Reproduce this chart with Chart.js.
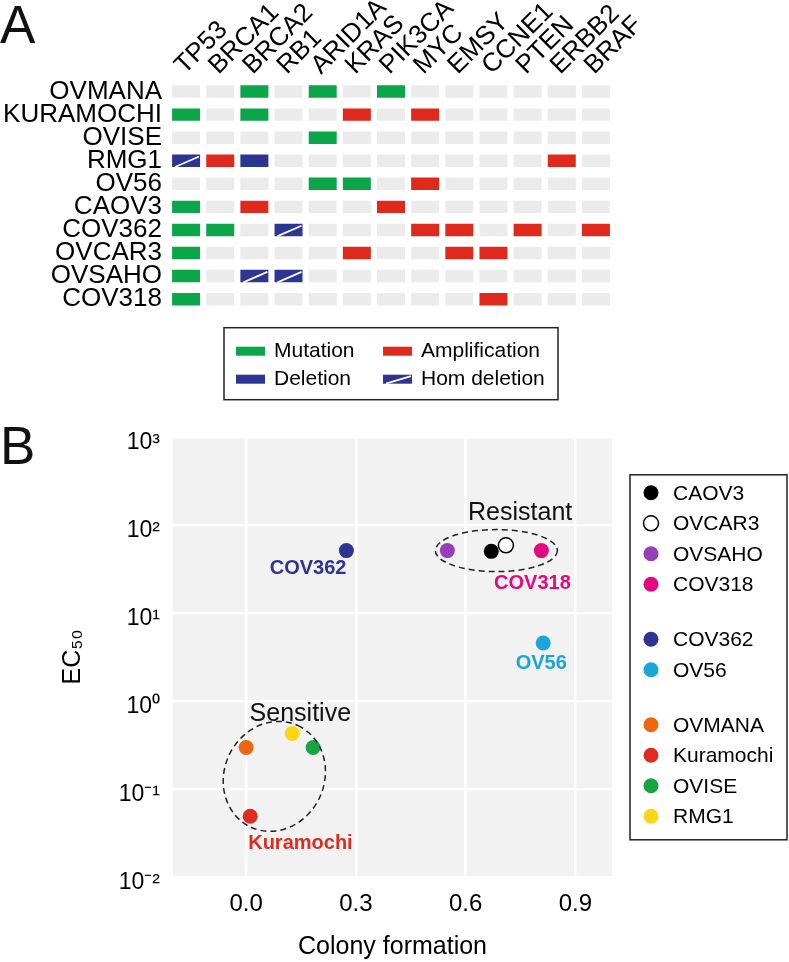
<!DOCTYPE html>
<html>
<head>
<meta charset="utf-8">
<script src="https://cdn.jsdelivr.net/npm/chart.js@4.4.1/dist/chart.umd.min.js"></script>
<style>
  html, body { margin: 0; padding: 0; background: #fff; }
  body { width: 789px; height: 962px; position: relative; overflow: hidden; font-family: "Liberation Sans", Arial, sans-serif; }
  .panel { position: absolute; left: 0; font-size: 53px; line-height: 1; color: #111; }
  #wrapA { position: absolute; left: 0; top: 0; width: 789px; height: 420px; }
  #wrapB { position: absolute; left: 0; top: 410px; width: 789px; height: 552px; }
</style>
</head>
<body>
<div id="wrapA"><canvas id="chartA" width="789" height="420"></canvas></div>
<div id="wrapB"><canvas id="chartB" width="789" height="552"></canvas></div>
<div class="panel" style="top:-2px;">A</div>
<div class="panel" style="top:419px;">B</div>
<script>
// ---- Panel A: alterations per cell line ----
const genes = ["TP53", "BRCA1", "BRCA2", "RB1", "ARID1A", "KRAS", "PIK3CA", "MYC", "EMSY", "CCNE1", "PTEN", "ERBB2", "BRAF"];
const cellLines = ["OVMANA", "KURAMOCHI", "OVISE", "RMG1", "OV56", "CAOV3", "COV362", "OVCAR3", "OVSAHO", "COV318"];

const mutations = [
    ["OVMANA", "BRCA2"], ["OVMANA", "ARID1A"], ["OVMANA", "PIK3CA"],
    ["KURAMOCHI", "TP53"], ["KURAMOCHI", "BRCA2"],
    ["OVISE", "ARID1A"],
    ["OV56", "ARID1A"], ["OV56", "KRAS"],
    ["CAOV3", "TP53"],
    ["COV362", "TP53"], ["COV362", "BRCA1"],
    ["OVCAR3", "TP53"], ["OVSAHO", "TP53"], ["COV318", "TP53"]
];
const amplifications = [
    ["KURAMOCHI", "KRAS"], ["KURAMOCHI", "MYC"],
    ["RMG1", "BRCA1"], ["RMG1", "ERBB2"],
    ["OV56", "MYC"],
    ["CAOV3", "BRCA2"], ["CAOV3", "PIK3CA"],
    ["COV362", "MYC"], ["COV362", "EMSY"], ["COV362", "PTEN"], ["COV362", "BRAF"],
    ["OVCAR3", "KRAS"], ["OVCAR3", "EMSY"], ["OVCAR3", "CCNE1"],
    ["COV318", "CCNE1"]
];
const deletions = [["RMG1", "BRCA2"]];
const homDeletions = [["RMG1", "TP53"], ["COV362", "RB1"], ["OVSAHO", "BRCA2"], ["OVSAHO", "RB1"]];

// ---- Panel B: colony formation vs EC50 ----
const lines = ["CAOV3", "OVCAR3", "OVSAHO", "COV318", "COV362", "OV56", "OVMANA", "Kuramochi", "OVISE", "RMG1"];
const colonyFormation = [0.67, 0.71, 0.55, 0.807, 0.274, 0.812, 0.0, 0.011, 0.183, 0.126];
const ec50 = [50, 58.5, 51, 51, 51, 4.55, 0.296, 0.049, 0.296, 0.426];
const legendGroups = [4, 2, 4];
const xTicks = [0, 0.3, 0.6, 0.9];
const yTicks = [0.01, 0.1, 1, 10, 100, 1000];
const yTickLabels = ["10\u207B\u00B2", "10\u207B\u00B9", "10\u2070", "10\u00B9", "10\u00B2", "10\u00B3"];

Chart.defaults.font.family = '"Liberation Sans", Arial, Helvetica, sans-serif';
Chart.defaults.color = "#000";

const COLORS = {
    Mutation: "#0ba64a",
    Amplification: "#de291c",
    Deletion: "#2d3592",
    "Hom deletion": "#2d3592",
    none: "#ebebeb"
};

function cell(pair) {
    const gi = genes.indexOf(pair[1]);
    return { x: [gi + 0.09, gi + 0.91], y: pair[0] };
}

const altered = new Set([...mutations, ...amplifications, ...deletions, ...homDeletions].map(p => p.join("|")));
const emptyCells = [];
cellLines.forEach(c => genes.forEach(g => { if (!altered.has(c + "|" + g)) emptyCells.push([c, g]); }));

function cellSet(label, pairs) {
    return {
        label: label,
        data: pairs.map(cell),
        backgroundColor: COLORS[label],
        grouped: false,
        barPercentage: 0.54,
        categoryPercentage: 1,
        borderWidth: 0
    };
}

const homLinePlugin = {
    id: "homLine",
    afterDatasetsDraw(chart) {
        const ctx = chart.ctx;
        chart.data.datasets.forEach((ds, i) => {
            if (ds.label !== "Hom deletion") return;
            chart.getDatasetMeta(i).data.forEach(bar => {
                const p = bar.getProps(["x", "y", "base", "height"], true);
                const l = Math.min(p.x, p.base), r = Math.max(p.x, p.base);
                ctx.save();
                ctx.strokeStyle = "#fff";
                ctx.lineWidth = 1.8;
                ctx.beginPath();
                ctx.moveTo(l + 3, p.y + p.height / 2);
                ctx.lineTo(r - 1, p.y - p.height / 2 + 2);
                ctx.stroke();
                ctx.restore();
            });
        });
    }
};

const legendAPlugin = {
    id: "legendA",
    afterDraw(chart) {
        const ctx = chart.ctx;
        const area = chart.chartArea;
        const w = 334, h = 72;
        const left = (area.left + area.right) / 2 - w / 2;
        const top = area.bottom + 17;
        ctx.save();
        ctx.strokeStyle = "#222";
        ctx.lineWidth = 1.5;
        ctx.strokeRect(left, top, w, h);
        const items = chart.data.datasets.filter(d => d.label !== "none");
        ctx.font = '21px "Liberation Sans", Arial, sans-serif';
        ctx.textBaseline = "middle";
        ctx.fillStyle = "#000";
        items.forEach((d, k) => {
            const col = k % 2, row = Math.floor(k / 2);
            const sx = left + 12 + col * 147;
            const sy = top + 19 + row * 28;
            ctx.fillStyle = d.backgroundColor;
            ctx.fillRect(sx, sy, 29, 9);
            if (d.label === "Hom deletion") {
                ctx.strokeStyle = "#fff";
                ctx.lineWidth = 1.8;
                ctx.beginPath();
                ctx.moveTo(sx + 3, sy + 9);
                ctx.lineTo(sx + 28, sy + 1.5);
                ctx.stroke();
            }
            ctx.fillStyle = "#000";
            ctx.fillText(d.label, sx + 38, sy + 5);
        });
        ctx.restore();
    }
};

new Chart(document.getElementById("chartA"), {
    type: "bar",
    data: {
        labels: cellLines,
        datasets: [
            cellSet("Mutation", mutations),
            cellSet("Amplification", amplifications),
            cellSet("Deletion", deletions),
            cellSet("Hom deletion", homDeletions),
            cellSet("none", emptyCells)
        ]
    },
    options: {
        indexAxis: "y",
        responsive: false,
        animation: false,
        layout: { padding: { left: 0, top: 0, right: 176, bottom: 109.3 } },
        plugins: { legend: { display: false }, tooltip: { enabled: false } },
        scales: {
            x: {
                type: "linear",
                position: "top",
                min: 0,
                max: genes.length,
                grid: { display: false, drawTicks: false },
                border: { display: false },
                // labels sit a little right of each column, as in the original
                afterBuildTicks: s => { s.ticks = genes.map((g, i) => ({ value: i + 0.95 })); },
                afterFit: s => { s.height = 80; },
                ticks: {
                    autoSkip: false,
                    minRotation: 45,
                    maxRotation: 45,
                    padding: -1,
                    font: { size: 26 },
                    callback: (v, i) => genes[i]
                }
            },
            y: {
                type: "category",
                grid: { display: false, drawTicks: false },
                border: { display: false },
                afterFit: s => { s.width = 169; },
                ticks: { autoSkip: false, padding: 7, font: { size: 26 } }
            }
        }
    },
    plugins: [homLinePlugin, legendAPlugin]
});

// ---- Panel B chart ----
const POINT_COLORS = {
    CAOV3: "#000000", OVCAR3: "#ffffff", OVSAHO: "#953fb8", COV318: "#e4087f",
    COV362: "#2d3592", OV56: "#1ba5d8", OVMANA: "#ef6512", Kuramochi: "#df2b20",
    OVISE: "#18a443", RMG1: "#fcd418"
};

const bgPlugin = {
    id: "panelBg",
    beforeDraw(chart) {
        const a = chart.chartArea;
        chart.ctx.save();
        chart.ctx.fillStyle = "#f2f2f2";
        chart.ctx.fillRect(a.left, a.top, a.right - a.left, a.bottom - a.top);
        chart.ctx.restore();
    }
};

const groupsPlugin = {
    id: "groups",
    afterDatasetsDraw(chart) {
        const ctx = chart.ctx;
        const xs = chart.scales.x, ys = chart.scales.y;
        ctx.save();
        ctx.strokeStyle = "#222";
        ctx.lineWidth = 1.5;
        ctx.setLineDash([6, 4]);
        [
            { x: 0.684, y: 51, rx: 61, ry: 21, rot: 0 },
            { x: 0.077, y: 0.139, rx: 56, ry: 50, rot: -65 }
        ].forEach(e => {
            ctx.beginPath();
            ctx.ellipse(xs.getPixelForValue(e.x), ys.getPixelForValue(e.y), e.rx, e.ry, e.rot * Math.PI / 180, 0, Math.PI * 2);
            ctx.stroke();
        });
        ctx.setLineDash([]);
        ctx.fillStyle = "#111";
        ctx.font = '25px "Liberation Sans", Arial, sans-serif';
        ctx.textAlign = "center";
        ctx.textBaseline = "middle";
        ctx.fillText("Resistant", xs.getPixelForValue(0.749), ys.getPixelForValue(134.6));
        ctx.fillText("Sensitive", xs.getPixelForValue(0.148), ys.getPixelForValue(0.716));

        // coloured names beside some points
        ctx.font = 'bold 20px "Liberation Sans", Arial, sans-serif';
        [
            { name: "COV362", dx: 0, dy: 18, align: "right" },
            { name: "COV318", dx: -9, dy: 33, align: "center" },
            { name: "OV56", dx: -2, dy: 20, align: "center" },
            { name: "Kuramochi", dx: -2, dy: 27, align: "left" }
        ].forEach(n => {
            const i = lines.indexOf(n.name);
            const px = xs.getPixelForValue(colonyFormation[i]);
            const py = ys.getPixelForValue(ec50[i]);
            ctx.fillStyle = POINT_COLORS[n.name];
            ctx.textAlign = n.align;
            ctx.fillText(n.name, px + n.dx, py + n.dy);
        });
        ctx.restore();
    }
};

const legendBPlugin = {
    id: "legendB",
    afterDraw(chart) {
        const ctx = chart.ctx;
        const a = chart.chartArea;
        const left = a.right + 18, top = a.top + 38;
        ctx.save();
        ctx.strokeStyle = "#222";
        ctx.lineWidth = 1.5;
        ctx.strokeRect(left, top, 157, 365);
        ctx.font = '21px "Liberation Sans", Arial, sans-serif';
        ctx.textBaseline = "middle";
        let y = top + 18, k = 0;
        legendGroups.forEach(n => {
            for (let j = 0; j < n; j++, k++) {
                const ds = chart.data.datasets[k];
                ctx.beginPath();
                ctx.arc(left + 21, y, 7.5, 0, Math.PI * 2);
                ctx.fillStyle = ds.backgroundColor;
                ctx.fill();
                if (ds.borderWidth) {
                    ctx.strokeStyle = "#000";
                    ctx.lineWidth = 1.5;
                    ctx.stroke();
                }
                ctx.fillStyle = "#000";
                ctx.fillText(ds.label, left + 43, y + 1);
                y += 30.5;
            }
            y += 24.5;
        });
        ctx.restore();
    }
};

new Chart(document.getElementById("chartB"), {
    type: "scatter",
    data: {
        datasets: lines.map((name, i) => ({
            label: name,
            data: [{ x: colonyFormation[i], y: ec50[i] }],
            backgroundColor: POINT_COLORS[name],
            borderColor: "#000",
            borderWidth: name === "OVCAR3" ? 1.5 : 0,
            pointRadius: 7.5,
            order: name === "OVCAR3" ? -1 : 0
        }))
    },
    options: {
        responsive: false,
        animation: false,
        layout: { padding: { left: 0, top: 25, right: 177, bottom: 0 } },
        plugins: { legend: { display: false }, tooltip: { enabled: false } },
        scales: {
            x: {
                type: "linear",
                min: -0.2,
                max: 1.0,
                grid: { color: "#ffffff", lineWidth: 2.5, drawTicks: false },
                border: { display: false },
                afterBuildTicks: s => { s.ticks = xTicks.map(v => ({ value: v })); },
                afterFit: s => { s.height = 85; },
                ticks: { padding: 13, font: { size: 24 }, callback: v => v.toFixed(1) },
                title: { display: true, text: "Colony formation", font: { size: 25 }, padding: { top: 4, bottom: 0 } }
            },
            y: {
                type: "logarithmic",
                min: 0.01,
                max: 1000,
                grid: { color: "#ffffff", lineWidth: 2.5, drawTicks: false },
                border: { display: false },
                afterBuildTicks: s => { s.ticks = yTicks.map(v => ({ value: v })); },
                afterFit: s => { s.width = 173; },
                ticks: { padding: 13, labelOffset: 6, font: { size: 23 }, callback: (v, i) => yTickLabels[i] },
                title: { display: true, text: "EC\u2085\u2080", font: { size: 25 }, padding: { top: 58, bottom: 0 } }
            }
        }
    },
    plugins: [bgPlugin, groupsPlugin, legendBPlugin]
});
</script>
</body>
</html>
